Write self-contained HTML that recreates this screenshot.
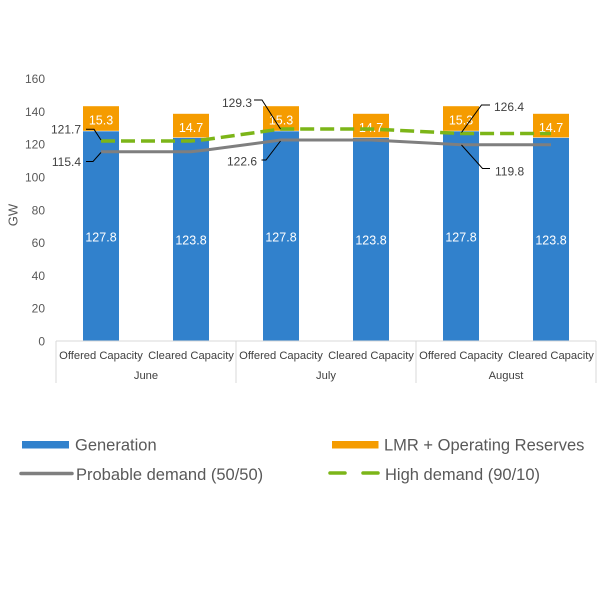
<!DOCTYPE html>
<html><head><meta charset="utf-8"><style>
html,body{margin:0;padding:0;background:#fff;}
svg{display:block;}
text{font-family:"Liberation Sans",sans-serif;}
</style></head><body>
<svg width="600" height="600" viewBox="0 0 600 600" xmlns="http://www.w3.org/2000/svg">
<rect width="600" height="600" fill="#fff"/>
<!-- y tick labels -->
<g fill="#595959" font-size="12" text-anchor="end">
<text x="45" y="345.5">0</text>
<text x="45" y="312.7">20</text>
<text x="45" y="279.9">40</text>
<text x="45" y="247.1">60</text>
<text x="45" y="214.3">80</text>
<text x="45" y="181.5">100</text>
<text x="45" y="148.7">120</text>
<text x="45" y="115.9">140</text>
<text x="45" y="83">160</text>
</g>
<text x="0" y="0" transform="translate(17.5,215) rotate(-90)" fill="#595959" font-size="13" text-anchor="middle">GW</text>
<!-- bars -->
<g>
<rect x="83" y="131.3" width="36" height="209.7" fill="#3181CC"/>
<rect x="83" y="106.2" width="36" height="24.6" fill="#F59C00"/>
<rect x="173" y="137.9" width="36" height="203.1" fill="#3181CC"/>
<rect x="173" y="113.8" width="36" height="23.6" fill="#F59C00"/>
<rect x="263" y="131.3" width="36" height="209.7" fill="#3181CC"/>
<rect x="263" y="106.2" width="36" height="24.6" fill="#F59C00"/>
<rect x="353" y="137.9" width="36" height="203.1" fill="#3181CC"/>
<rect x="353" y="113.8" width="36" height="23.6" fill="#F59C00"/>
<rect x="443" y="131.3" width="36" height="209.7" fill="#3181CC"/>
<rect x="443" y="106.2" width="36" height="24.6" fill="#F59C00"/>
<rect x="533" y="137.9" width="36" height="203.1" fill="#3181CC"/>
<rect x="533" y="113.8" width="36" height="23.6" fill="#F59C00"/>
</g>
<!-- inside labels -->
<g fill="#fff" font-size="12.5" text-anchor="middle">
<text x="101" y="241.5">127.8</text>
<text x="191" y="244.5">123.8</text>
<text x="281" y="241.5">127.8</text>
<text x="371" y="244.5">123.8</text>
<text x="461" y="241.5">127.8</text>
<text x="551" y="244.5">123.8</text>
<text x="101" y="124.5">15.3</text>
<text x="191" y="131.8">14.7</text>
<text x="281" y="124.5">15.3</text>
<text x="371" y="131.8">14.7</text>
<text x="461" y="124.5">15.3</text>
<text x="551" y="131.8">14.7</text>
</g>
<!-- lines -->
<polyline points="101,151.7 191,151.7 206,150 281,140 371,140 461,144.8 551,144.8" fill="none" stroke="#7F7F7F" stroke-width="3"/>
<polyline points="101,141 191,141 206,139.5 281,129 371,129 461,133.5 551,133.5" fill="none" stroke="#7CB518" stroke-width="3.5" stroke-dasharray="14 6"/>
<!-- leader lines -->
<g fill="none" stroke="#000" stroke-width="1">
<polyline points="86,129.3 94,129.3 101,140"/>
<polyline points="86,161.5 93,161.5 101,152.5"/>
<polyline points="254,100 262,100 280.5,129"/>
<polyline points="261.5,160 266,160 280.5,141"/>
<polyline points="461.5,132.5 481.5,105 490,105"/>
<polyline points="461.5,145 482.5,168.5 490,168.5"/>
</g>
<g fill="#404040" font-size="12">
<text x="81" y="133.5" text-anchor="end">121.7</text>
<text x="81" y="166" text-anchor="end">115.4</text>
<text x="252" y="107" text-anchor="end">129.3</text>
<text x="257" y="165.5" text-anchor="end">122.6</text>
<text x="494" y="111">126.4</text>
<text x="495" y="175.5">119.8</text>
</g>
<!-- axis -->
<g stroke="#D9D9D9" stroke-width="1" fill="none">
<line x1="56" y1="341" x2="596" y2="341"/>
<line x1="56" y1="341" x2="56" y2="383"/>
<line x1="236" y1="341" x2="236" y2="383"/>
<line x1="416" y1="341" x2="416" y2="383"/>
<line x1="596" y1="341" x2="596" y2="383"/>
</g>
<g fill="#404040" font-size="11.2" text-anchor="middle">
<text x="101" y="359">Offered Capacity</text>
<text x="191" y="359">Cleared Capacity</text>
<text x="281" y="359">Offered Capacity</text>
<text x="371" y="359">Cleared Capacity</text>
<text x="461" y="359">Offered Capacity</text>
<text x="551" y="359">Cleared Capacity</text>
<text x="146" y="379">June</text>
<text x="326" y="379">July</text>
<text x="506" y="379">August</text>
</g>
<!-- legend -->
<rect x="22" y="441" width="47" height="7.5" fill="#3181CC"/>
<rect x="332" y="441" width="46.5" height="7.5" fill="#F59C00"/>
<line x1="21" y1="473.5" x2="72" y2="473.5" stroke="#7F7F7F" stroke-width="3.5" stroke-linecap="round"/>
<line x1="330" y1="473" x2="345" y2="473" stroke="#7CB518" stroke-width="3.5" stroke-linecap="round"/>
<line x1="363" y1="473" x2="378" y2="473" stroke="#7CB518" stroke-width="3.5" stroke-linecap="round"/>
<g fill="#595959" font-size="16.5">
<text x="75" y="450.5">Generation</text>
<text x="76" y="480">Probable demand (50/50)</text>
<text x="384" y="450.5">LMR + Operating Reserves</text>
<text x="385" y="480">High demand (90/10)</text>
</g>
</svg>
</body></html>
